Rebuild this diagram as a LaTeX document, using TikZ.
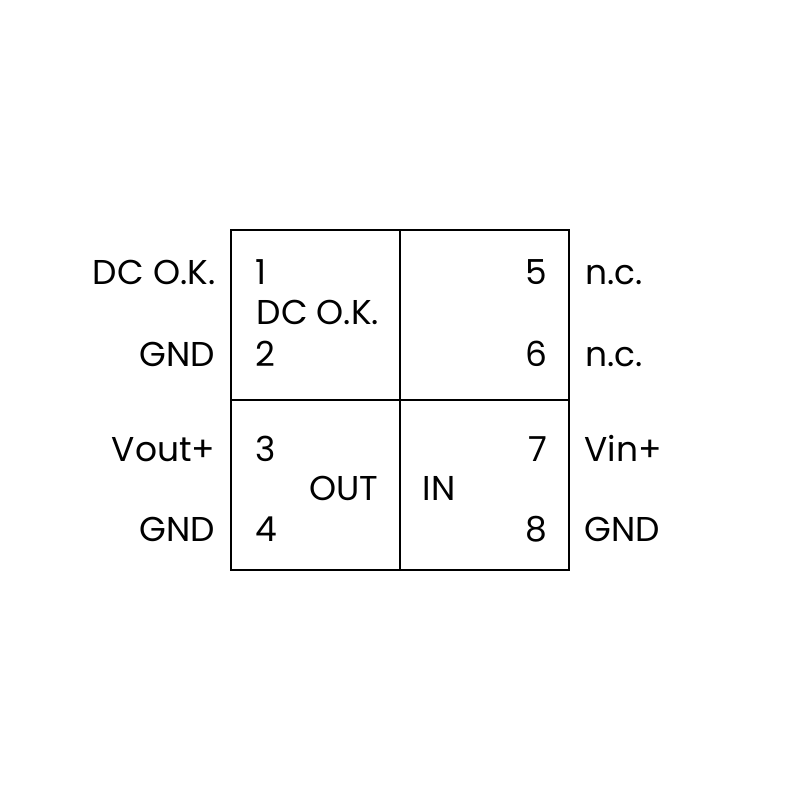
\documentclass[tikz,border=0pt]{standalone}
\usepackage{fontspec}
\setmainfont{Poppins}
\usepackage{tikz}
\usetikzlibrary{positioning}
\tikzset{
	pinlabel/.style={inner sep=0pt, font=\fontsize{9.8}{11}\selectfont},
	boxline/.style={draw=black, line width=0.7pt},
}

\begin{document}
\begin{tikzpicture}
			\useasboundingbox (0,0) rectangle (8,8);
			% Housing
			\draw [boxline] (2.31, 2.30) rectangle (5.69, 5.70);
			\draw [boxline] (4.00, 2.30)--(4.00, 5.70);
			\draw [boxline] (2.31, 4.00)--(5.69, 4.00);
			% Pin numbers
			\node [pinlabel, anchor=base west] (p1) at (2.55, 5.15) {1};
			\node [pinlabel, anchor=base west] (p2) at (2.55, 4.33) {2};
			\node [pinlabel, anchor=base west] (p3) at (2.55, 3.38) {3};
			\node [pinlabel, anchor=base west] (p4) at (2.55, 2.58) {4};
			\node [pinlabel, anchor=base east] (p5) at (5.48, 5.15) {5};
			\node [pinlabel, anchor=base east] (p6) at (5.48, 4.33) {6};
			\node [pinlabel, anchor=base east] (p7) at (5.48, 3.38) {7};
			\node [pinlabel, anchor=base east] (p8) at (5.48, 2.58) {8};
			% Inner labels
			\node [pinlabel, anchor=base west] (dcok) at (2.56, 4.75) {DC O.K.};
			\node [pinlabel, anchor=base east] (out) at (3.79, 2.99) {OUT};
			\node [pinlabel, anchor=base west] (in) at (4.22, 2.99) {IN};
			% Left labels
			\node [pinlabel, anchor=base east] (l1) at (2.16, 5.15) {DC O.K.};
			\node [pinlabel, anchor=base east] (l2) at (2.16, 4.33) {GND};
			\node [pinlabel, anchor=base east] (l3) at (2.16, 3.38) {Vout+};
			\node [pinlabel, anchor=base east] (l4) at (2.16, 2.58) {GND};
			% Right labels
			\node [pinlabel, anchor=base west] (r5) at (5.85, 5.15) {n.c.};
			\node [pinlabel, anchor=base west] (r6) at (5.85, 4.33) {n.c.};
			\node [pinlabel, anchor=base west] (r7) at (5.84, 3.38) {Vin+};
			\node [pinlabel, anchor=base west] (r8) at (5.84, 2.58) {GND};
\end{tikzpicture}
\end{document}
